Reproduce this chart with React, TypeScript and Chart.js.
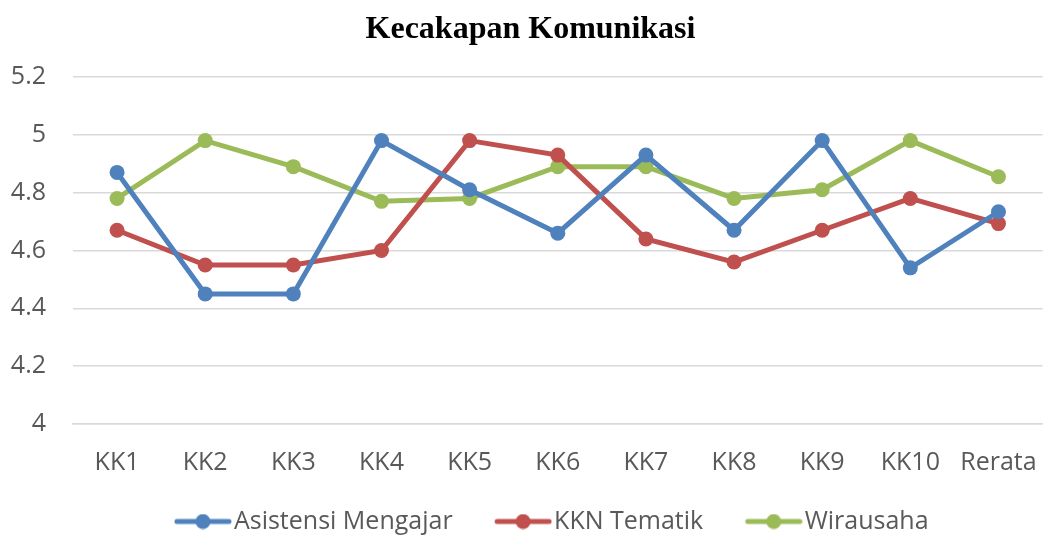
import React, { useEffect, useRef } from "react";
import { Chart, registerables } from "chart.js";

Chart.register(...registerables);

const categories = ["KK1", "KK2", "KK3", "KK4", "KK5", "KK6", "KK7", "KK8", "KK9", "KK10", "Rerata"];
const asistensiMengajar = [4.87, 4.45, 4.45, 4.98, 4.81, 4.66, 4.93, 4.67, 4.98, 4.54, 4.734];
const kknTematik = [4.67, 4.55, 4.55, 4.6, 4.98, 4.93, 4.64, 4.56, 4.67, 4.78, 4.693];
const wirausaha = [4.78, 4.98, 4.89, 4.77, 4.78, 4.89, 4.89, 4.78, 4.81, 4.98, 4.855];
const seriesNames = ["Asistensi Mengajar", "KKN Tematik", "Wirausaha"];
const seriesColors = ["#4F81BD", "#C0504D", "#9BBB59"];
const titleText = "Kecakapan Komunikasi";

const FONT = '"Open Sans", Lato, sans-serif';
const FONT_SIZE = 25;
const LEGEND_BOX = 89;

function legendIcon(color: string): HTMLCanvasElement {
  const c = document.createElement("canvas");
  const w = LEGEND_BOX + FONT_SIZE - 4;
  c.width = w;
  c.height = 16;
  const ctx = c.getContext("2d")!;
  ctx.strokeStyle = color;
  ctx.lineWidth = 5;
  ctx.lineCap = "round";
  ctx.beginPath();
  ctx.moveTo(w - 55, 8);
  ctx.lineTo(w - 3, 8);
  ctx.stroke();
  ctx.fillStyle = color;
  ctx.beginPath();
  ctx.arc(w - 29, 8, 7.5, 0, Math.PI * 2);
  ctx.fill();
  return c;
}

const shiftLegend = {
  id: "shiftLegend",
  afterLayout(chart: any) {
    const lg = chart.legend;
    if (lg) {
      lg.top += 8;
      lg.bottom += 8;
    }
  },
};

export default function App() {
  const ref = useRef<HTMLCanvasElement | null>(null);
  useEffect(() => {
    document.body.style.margin = "0";
    if (!ref.current) return;
    const icons = seriesColors.map(legendIcon);
    const data = [asistensiMengajar, kknTematik, wirausaha];
    const chart = new Chart(ref.current, {
      type: "line",
      data: {
        labels: categories,
        datasets: data.map((d, i) => ({
          label: seriesNames[i],
          data: d,
          borderColor: seriesColors[i],
          backgroundColor: seriesColors[i],
          borderWidth: 5,
          pointRadius: 7.5,
          pointBorderWidth: 0,
          pointBackgroundColor: seriesColors[i],
          tension: 0,
          fill: false,
        })),
      },
      plugins: [shiftLegend],
      options: {
        animation: false,
        responsive: false,
        layout: { padding: { left: 0, right: 0, top: 0, bottom: 0 } },
        plugins: {
          title: {
            display: true,
            text: titleText,
            color: "#000000",
            font: { family: '"Liberation Serif", "Times New Roman", serif', size: 32, weight: "bold" },
            padding: { top: 11, bottom: 27.6 },
          },
          legend: {
            position: "bottom",
            labels: {
              usePointStyle: true,
              pointStyleWidth: LEGEND_BOX,
              boxWidth: LEGEND_BOX,
              boxHeight: 14,
              padding: 0,
              color: "#595959",
              font: { family: FONT, size: FONT_SIZE },
              generateLabels: (ch: any) => {
                const items = Chart.defaults.plugins.legend.labels.generateLabels(ch);
                return items.map((it: any, i: number) => ({ ...it, pointStyle: icons[i] }));
              },
            },
          },
          tooltip: { enabled: false },
        },
        scales: {
          x: {
            offset: true,
            grid: { display: false, drawTicks: false },
            border: { display: true, color: "#D9D9D9", width: 1.5 },
            ticks: { color: "#595959", font: { family: FONT, size: FONT_SIZE }, padding: 24 },
            afterFit: (s: any) => {
              s.height = 77;
            },
          },
          y: {
            min: 4,
            max: 5.2,
            grid: { color: "#D9D9D9", lineWidth: 1.5, drawTicks: false },
            border: { display: false },
            ticks: {
              stepSize: 0.2,
              color: "#595959",
              font: { family: FONT, size: FONT_SIZE },
              padding: 27,
              callback: (v: any) => String(Math.round(Number(v) * 10) / 10),
            },
            afterFit: (s: any) => {
              s.width = 73;
            },
          },
        },
      },
    });
    return () => chart.destroy();
  }, []);
  return (
    <div style={{ position: "absolute", left: 0, top: 0, width: 1061, height: 536, background: "#fff" }}>
      <canvas ref={ref} width={1061} height={536} />
    </div>
  );
}
